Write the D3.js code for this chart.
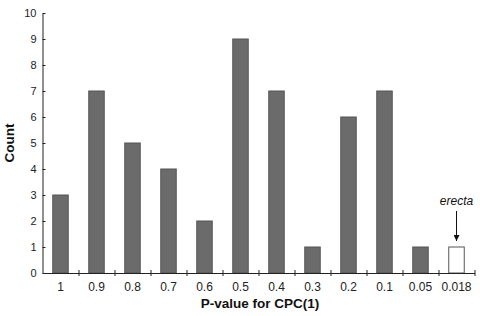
<!DOCTYPE html>
<html>
<head>
<meta charset="utf-8">
<script src="https://cdn.jsdelivr.net/npm/d3@7"></script>
<style>
  body { margin: 0; background: #fff; }
  svg { font-family: "Liberation Sans", Arial, sans-serif; }
  .axis path, .axis line { stroke: #222; stroke-width: 1; }
  .axis text { font-size: 11px; fill: #222; }
  .axis text.cat { font-size: 12px; }
</style>
</head>
<body>
<div id="chart"></div>
<script>
var categories = ["1", "0.9", "0.8", "0.7", "0.6", "0.5", "0.4", "0.3", "0.2", "0.1", "0.05", "0.018"]
var counts = [3, 7, 5, 4, 2, 9, 7, 1, 6, 7, 1, 1]
var highlighted = ["0.018"]
var yTicks = [0, 1, 2, 3, 4, 5, 6, 7, 8, 9, 10]

var W = 480, H = 316
var margin = { left: 42.5, right: 5, top: 13, bottom: 43 }
var width = W - margin.left - margin.right,
    height = H - margin.top - margin.bottom

var svg = d3.select("#chart")
    .append("svg")
        .attr("width", W)
        .attr("height", H)
    .append("g")
        .attr("transform", "translate(" + margin.left + "," + margin.top + ")")

var x = d3.scaleBand()
    .domain(categories)
    .range([0, 36 * categories.length])
    .paddingInner(0.57)
    .paddingOuter(0.285)

var xEdges = d3.scaleLinear()
    .domain([0, categories.length])
    .range([0, 36 * categories.length])

var y = d3.scaleLinear()
    .domain([0, 10])
    .range([height, 0])

// bars
svg.selectAll("rect.bar")
    .data(categories)
    .enter().append("rect")
        .attr("class", "bar")
        .attr("x", d => x(d))
        .attr("width", x.bandwidth())
        .attr("y", (d, i) => y(counts[i]))
        .attr("height", (d, i) => y(0) - y(counts[i]))
        .attr("fill", d => highlighted.includes(d) ? "#fff" : "#6b6b6b")
        .attr("stroke", "#555")
        .attr("stroke-width", 1)

// y axis, ticks crossing the line
var yAxis = svg.append("g")
    .attr("class", "axis")
    .call(d3.axisLeft(y).tickValues(yTicks).tickSize(3).tickPadding(3).tickSizeOuter(0))
yAxis.selectAll(".tick line").attr("x2", 3)

// x axis: ticks at band edges
var xAxis = svg.append("g")
    .attr("class", "axis")
    .attr("transform", "translate(0," + height + ")")
    .call(d3.axisBottom(xEdges).tickValues(d3.range(1, categories.length + 1)).tickSize(3).tickFormat("").tickSizeOuter(0))
xAxis.selectAll(".tick line").attr("y1", -3)

xAxis.selectAll("text.cat")
    .data(categories)
    .enter().append("text")
        .attr("class", "cat")
        .attr("x", d => x(d) + x.bandwidth() / 2)
        .attr("y", 18)
        .attr("text-anchor", "middle")
        .text(d => d)

// axis titles
svg.append("text")
    .attr("x", 260 - margin.left)
    .attr("y", height + 35)
    .attr("text-anchor", "middle")
    .attr("font-size", "13.5px")
    .attr("font-weight", "bold")
    .attr("fill", "#111")
    .text("P-value for CPC(1)")

svg.append("text")
    .attr("transform", "rotate(-90)")
    .attr("x", -height / 2)
    .attr("y", -29)
    .attr("text-anchor", "middle")
    .attr("font-size", "13.5px")
    .attr("font-weight", "bold")
    .attr("fill", "#111")
    .text("Count")

// annotation for the highlighted bar
var hi = highlighted[0]
var hx = x(hi) + x.bandwidth() / 2
var hv = counts[categories.indexOf(hi)]

svg.append("defs").append("marker")
    .attr("id", "arrow")
    .attr("viewBox", "0 0 10 10")
    .attr("refX", 10).attr("refY", 5)
    .attr("markerWidth", 6).attr("markerHeight", 6)
    .attr("markerUnits", "userSpaceOnUse")
    .attr("orient", "auto")
    .append("path")
        .attr("d", "M0,0L10,5L0,10Z")
        .attr("fill", "#111")

svg.append("line")
    .attr("x1", hx).attr("x2", hx)
    .attr("y1", y(hv) - 36)
    .attr("y2", y(hv) - 6)
    .attr("stroke", "#111")
    .attr("stroke-width", 1)
    .attr("marker-end", "url(#arrow)")

svg.append("text")
    .attr("x", hx)
    .attr("y", y(hv) - 42)
    .attr("text-anchor", "middle")
    .attr("font-size", "12px")
    .attr("font-style", "italic")
    .attr("fill", "#111")
    .text("erecta")
</script>
</body>
</html>
